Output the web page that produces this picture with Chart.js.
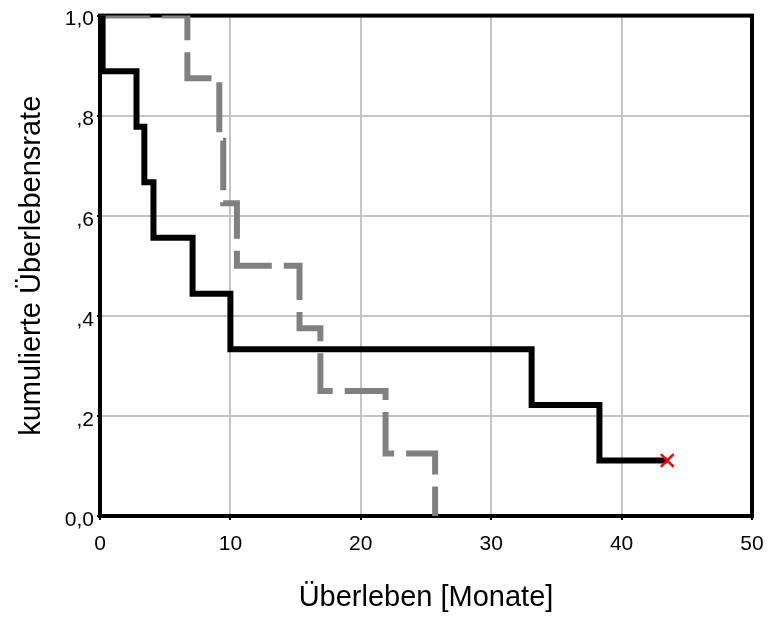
<!DOCTYPE html>
<html>
<head>
<meta charset="utf-8">
<script src="https://cdn.jsdelivr.net/npm/chart.js@4/dist/chart.umd.min.js"></script>
<style>
  html, body { margin: 0; padding: 0; background: #fff; }
  #wrap { width: 770px; height: 624px; }
</style>
</head>
<body>
<div id="wrap"><canvas id="chart" width="770" height="624"></canvas></div>
<script>
// group 1 (solid black): event times in months and cumulative survival
const blackTimes = [0, 0.2, 2.8, 3.4, 4.1, 7.1, 10.0, 33.1, 38.3, 43.5]
const blackSurv = [1, 0.889, 0.778, 0.667, 0.556, 0.444, 0.333, 0.222, 0.111, 0.111]
// group 2 (dashed gray)
const grayTimes = [0, 6.7, 9.15, 9.45, 10.5, 15.3, 16.9, 21.9, 25.7]
const graySurv = [1, 0.875, 0.75, 0.625, 0.5, 0.375, 0.25, 0.125, 0]
// censored case
const censTimes = [43.5]
const censSurv = [0.111]

const xTicks = [0, 10, 20, 30, 40, 50]
const yTicks = [0, 0.2, 0.4, 0.6, 0.8, 1.0]
const yTickLabels = ['0,0', ',2', ',4', ',6', ',8', '1,0']

const toPoints = (xs, ys) => xs.map((x, i) => ({ x: x, y: ys[i] }))

Chart.defaults.font.family = '"Liberation Sans", Arial, sans-serif'
Chart.defaults.color = '#000'

// black frame round the plot area
const frame = {
  id: 'frame',
  beforeDatasetsDraw (chart) {
    const { ctx, chartArea: a } = chart
    ctx.save()
    ctx.strokeStyle = '#000'
    ctx.lineWidth = 4
    ctx.strokeRect(a.left, a.top, a.right - a.left, a.bottom - a.top)
    ctx.restore()
  }
}

const config = {
  type: 'line',
  data: {
    datasets: [
      {
        label: 'zensiert',
        data: toPoints(censTimes, censSurv),
        showLine: false,
        pointStyle: 'crossRot',
        pointRadius: 9,
        pointBorderColor: '#ff0000',
        pointBorderWidth: 2.5,
        order: 0
      },
      {
        label: 'Gruppe 1',
        data: toPoints(blackTimes, blackSurv),
        stepped: true,
        borderColor: '#000',
        borderWidth: 6,
        pointRadius: 0,
        fill: false,
        order: 1
      },
      {
        label: 'Gruppe 2',
        data: toPoints(grayTimes, graySurv),
        stepped: true,
        borderColor: '#808080',
        borderWidth: 6,
        borderDash: [50, 12],
        borderCapStyle: 'butt',
        pointRadius: 0,
        fill: false,
        order: 2
      }
    ]
  },
  options: {
    responsive: false,
    animation: false,
    layout: { padding: { top: 15, right: 18, left: 0, bottom: 0 } },
    plugins: {
      legend: { display: false },
      tooltip: { enabled: false }
    },
    scales: {
      x: {
        type: 'linear',
        min: 0,
        max: 50,
        afterBuildTicks (axis) { axis.ticks = xTicks.map(v => ({ value: v })) },
        afterFit (axis) {
          axis.height = 108
          axis.paddingLeft = 0
          axis.paddingRight = 0
        },
        grid: { color: '#c4c4c4', lineWidth: 2, tickColor: '#000', tickLength: 4 },
        border: { display: false },
        ticks: { font: { size: 21 }, padding: 12, maxRotation: 0 },
        title: {
          display: true,
          text: 'Überleben [Monate]',
          font: { size: 29 },
          padding: { top: 0, bottom: 9 }
        }
      },
      y: {
        type: 'linear',
        min: 0,
        max: 1,
        afterBuildTicks (axis) { axis.ticks = yTicks.map(v => ({ value: v })) },
        afterFit (axis) { axis.width = 100 },
        grid: { color: '#c4c4c4', lineWidth: 2, tickColor: '#000', tickLength: 3 },
        border: { display: false },
        ticks: {
          font: { size: 21 },
          padding: 3,
          labelOffset: 4,
          callback: (v) => yTickLabels[yTicks.indexOf(Math.round(v * 10) / 10)]
        },
        title: {
          display: true,
          text: 'kumulierte Überlebensrate',
          font: { size: 29 },
          padding: { top: 15, bottom: 0 }
        }
      }
    }
  },
  plugins: [frame]
}

new Chart(document.getElementById('chart'), config)
</script>
</body>
</html>
